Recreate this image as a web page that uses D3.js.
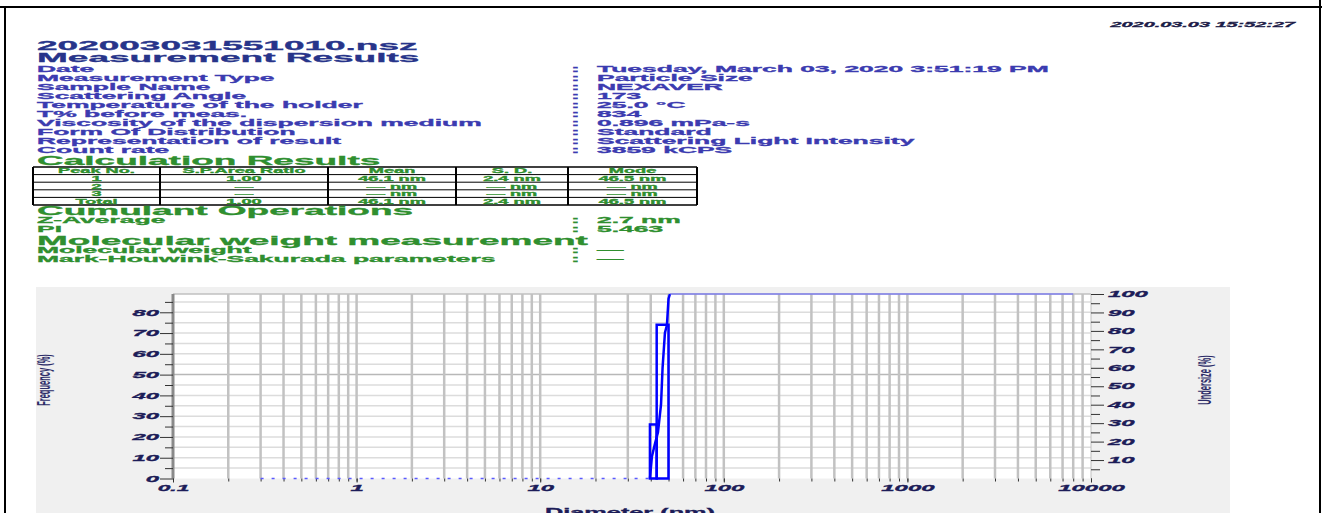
<!DOCTYPE html>
<html lang="en">
<head>
<meta charset="UTF-8">
<script src="https://d3js.org/d3.v7.min.js"></script>
<title>DLS report</title>
<style>
    body { margin: 0; background: #fff; }
    svg { display: block; }
    text { font-family: "Liberation Sans", Arial, sans-serif; font-weight: bold; }
    .tick text { font-style: italic; fill: #1c1c58; }
</style>
</head>
<body>
<div id="container"></div>
<script>
    const stamp = "2020.03.03 15:52:27";
    const fileName = "202003031551010.nsz";
    const infoLabels = ["Date", "Measurement Type", "Sample Name", "Scattering Angle", "Temperature of the holder",
        "T% before meas.", "Viscosity of the dispersion medium", "Form Of Distribution", "Representation of result", "Count rate"];
    const infoValues = ["Tuesday, March 03, 2020 3:51:19 PM", "Particle Size", "NEXAVER", "173", "25.0 \u00b0C",
        "834", "0.896 mPa-s", "Standard", "Scattering Light Intensity", "3859 kCPS"];
    const peakHeader = ["Peak No.", "S.P.Area Ratio", "Mean", "S. D.", "Mode"];
    const peakRows = [
        ["1", "1.00", "46.1 nm", "2.4 nm", "46.5 nm"],
        ["2", "\u2014", "\u2014 nm", "\u2014 nm", "\u2014 nm"],
        ["3", "\u2014", "\u2014 nm", "\u2014 nm", "\u2014 nm"],
        ["Total", "1.00", "46.1 nm", "2.4 nm", "46.5 nm"]
    ];
    const cumulantLabels = ["Z-Average", "PI"];
    const cumulantValues = ["2.7 nm", "5.463"];
    const mwLabels = ["Molecular weight", "Mark-Houwink-Sakurada parameters"];
    const mwValues = ["\u2014", "\u2014"];

    // frequency histogram (%), bin edges in nm
    const binLo = [39.6, 43.1];
    const binHi = [43.1, 50.0];
    const freq = [26, 74];
    // undersize (cumulative %) curve
    const cumSize = [0.3, 39.6, 40.6, 42.2, 43.8, 45.5, 46.4, 47.8, 49.0, 50.0, 50.9, 8000];
    const cumPct = [0, 0, 12, 19, 25, 40, 60, 79, 83, 97.5, 100, 100];

    const xTicks = [0.1, 1, 10, 100, 1000, 10000];
    const leftTicks = [0, 10, 20, 30, 40, 50, 60, 70, 80];
    const rightTicks = [10, 20, 30, 40, 50, 60, 70, 80, 90, 100];

    const W = 1322, H = 513;

    const svg = d3.select("#container").append("svg")
        .attr("width", W).attr("height", H);

    // page frame
    svg.append("line").attr("x1", 0).attr("x2", W).attr("y1", 7).attr("y2", 7)
        .attr("stroke", "#000").attr("stroke-width", 2);
    svg.append("line").attr("x1", 5).attr("x2", 5).attr("y1", 7).attr("y2", H)
        .attr("stroke", "#000").attr("stroke-width", 2);
    svg.append("line").attr("x1", 1320).attr("x2", 1320).attr("y1", 0).attr("y2", H)
        .attr("stroke", "#000").attr("stroke-width", 2);

    // the report text is stretched horizontally
    function st(x, y, str, size, color, anchor, sx) {
        return svg.append("text")
            .attr("transform", `translate(${x},${y}) scale(${sx},1)`)
            .attr("text-anchor", anchor || "start")
            .attr("font-size", size)
            .attr("fill", color)
            .attr("stroke", color).attr("stroke-width", 0.3)
            .text(str);
    }

    const navy = "#27348a", blue = "#3b3bb0", green = "#2f8f2f";
    const HEAD = 12.5, HSX = 2.96;   // headings
    const ROW = 9, RSX = 2.94;       // label rows

    st(1295, 27, stamp, 7.5, "#1c1c48", "end", 2.65).attr("font-style", "italic");

    st(37, 50, fileName, HEAD, navy, "start", HSX);
    st(37, 62, "Measurement Results", HEAD, navy, "start", HSX);
    infoLabels.forEach((d, i) => {
        st(37, 71.5 + i * 9, d, ROW, blue, "start", RSX);
        st(571, 71.5 + i * 9, ":", ROW, blue, "start", RSX);
        st(597, 71.5 + i * 9, infoValues[i], ROW, blue, "start", RSX);
    });

    st(37, 164.5, "Calculation Results", HEAD, green, "start", HSX);

    // peak table
    const colX = [33, 160, 328, 456, 568, 697];
    const rowY = d3.range(6).map(i => 167 + i * 7.6);
    const tbl = svg.append("g");
    rowY.forEach((y, i) => {
        tbl.append("line").attr("x1", colX[0]).attr("x2", colX[5]).attr("y1", y).attr("y2", y)
            .attr("stroke", "#000").attr("stroke-width", (i === 0 || i === 5) ? 1.5 : 1);
    });
    colX.forEach(x => {
        tbl.append("line").attr("x1", x).attr("x2", x).attr("y1", rowY[0]).attr("y2", rowY[5])
            .attr("stroke", "#000").attr("stroke-width", 2);
    });
    [peakHeader].concat(peakRows).forEach((row, r) => {
        row.forEach((cell, c) => {
            st((colX[c] + colX[c + 1]) / 2, rowY[r] + 6.4, cell, 6.5, green, "middle", 2.8);
        });
    });

    st(37, 214.5, "Cumulant Operations", HEAD, green, "start", HSX);
    cumulantLabels.forEach((d, i) => {
        st(37, 223 + i * 9, d, ROW, green, "start", RSX);
        st(571, 223 + i * 9, ":", ROW, green, "start", RSX);
        st(597, 223 + i * 9, cumulantValues[i], ROW, green, "start", RSX);
    });
    st(37, 244.5, "Molecular weight measurement", HEAD, green, "start", HSX);
    mwLabels.forEach((d, i) => {
        st(37, 253 + i * 9, d, ROW, green, "start", RSX);
        st(571, 253 + i * 9, ":", ROW, green, "start", RSX);
        st(597, 253 + i * 9, mwValues[i], ROW, green, "start", RSX);
    });

    // chart panel
    svg.append("rect").attr("x", 36).attr("y", 287).attr("width", 1194).attr("height", H - 287)
        .attr("fill", "#f0f0f0");

    const x = d3.scaleLog().domain([0.1, 10000]).range([173, 1091]);
    const yL = d3.scaleLinear().domain([0, 88.8]).range([478.5, 294]);
    const yR = d3.scaleLinear().domain([0, 100]).range([478.5, 294]);

    svg.append("rect").attr("x", x(0.1)).attr("y", yR(100))
        .attr("width", x(10000) - x(0.1)).attr("height", yR(0) - yR(100))
        .attr("fill", "#fff");

    // grid
    const gridX = [];
    d3.range(-1, 4).forEach(e => d3.range(1, 10).forEach(k => gridX.push(k * Math.pow(10, e))));
    const grid = svg.append("g");
    grid.selectAll("line.h").data(d3.range(5, 89, 5)).enter().append("line")
        .attr("x1", x(0.1)).attr("x2", x(10000))
        .attr("y1", d => yL(d)).attr("y2", d => yL(d))
        .attr("stroke", d => d === 50 ? "#b8b8b8" : "#dcdcdc").attr("stroke-width", 1.5);
    grid.selectAll("line.v").data(gridX.filter(d => d > 0.1)).enter().append("line")
        .attr("x1", d => x(d)).attr("x2", d => x(d))
        .attr("y1", yR(100)).attr("y2", yR(0))
        .attr("stroke", "#c2c2c2").attr("stroke-width", 2.5);
    svg.append("line").attr("x1", x(0.1)).attr("x2", x(10000)).attr("y1", yR(100)).attr("y2", yR(100))
        .attr("stroke", "#c0c0c0").attr("stroke-width", 1.5);
    svg.append("line").attr("x1", x(10000)).attr("x2", x(10000)).attr("y1", yR(100)).attr("y2", yR(0))
        .attr("stroke", "#c0c0c0").attr("stroke-width", 1);
    svg.append("line").attr("x1", x(0.1)).attr("x2", x(0.1)).attr("y1", yR(100)).attr("y2", yR(0))
        .attr("stroke", "#8a8a8a").attr("stroke-width", 3);

    function stretchLabels(sel) {
        sel.selectAll(".tick text")
            .attr("font-size", 8.5)
            .attr("stroke", "#1c1c58").attr("stroke-width", 0.3)
            .attr("lengthAdjust", "spacingAndGlyphs")
            .attr("textLength", function () {
                const s = this.textContent;
                return s.replace(/\./g, "").length * 13.3 + (s.split(".").length - 1) * 5;
            });
        sel.select(".domain").remove();
        sel.selectAll(".tick line").attr("stroke", "#333");
    }

    // left axis
    svg.append("g").attr("transform", `translate(${x(0.1)},0)`)
        .call(d3.axisLeft(yL).tickValues(d3.range(5, 89, 10)).tickSize(8).tickFormat(""))
        .call(stretchLabels);
    svg.append("g").attr("transform", `translate(${x(0.1)},0)`)
        .call(d3.axisLeft(yL).tickValues(leftTicks).tickSize(13).tickPadding(1).tickFormat(d3.format("d")))
        .call(stretchLabels);

    // right axis
    svg.append("g").attr("transform", `translate(${x(10000)},0)`)
        .call(d3.axisRight(yR).tickValues(d3.range(5, 100, 10)).tickSize(9).tickFormat(""))
        .call(stretchLabels);
    svg.append("g").attr("transform", `translate(${x(10000)},0)`)
        .call(d3.axisRight(yR).tickValues(rightTicks).tickSize(13).tickPadding(4).tickFormat(d3.format("d")))
        .call(stretchLabels);

    // bottom axis
    svg.append("g").attr("transform", `translate(0,${yR(0)})`)
        .call(d3.axisBottom(x).tickValues(gridX.concat([10000])).tickSize(3).tickFormat(""))
        .call(stretchLabels);
    svg.append("g").attr("transform", `translate(0,${yR(0)})`)
        .call(d3.axisBottom(x).tickValues(xTicks).tickSize(4).tickPadding(2).tickFormat(d => String(d)))
        .call(stretchLabels);

    // axis titles
    svg.append("text")
        .attr("transform", `translate(50,380) scale(2.4,1) rotate(-90)`)
        .attr("text-anchor", "middle").attr("font-size", 7.5).attr("font-weight", "normal")
        .attr("fill", "#2c2c68").text("Frequency (%)");
    svg.append("text")
        .attr("transform", `translate(1211,380) scale(2.4,1) rotate(-90)`)
        .attr("text-anchor", "middle").attr("font-size", 7.5).attr("font-weight", "normal")
        .attr("fill", "#2c2c68").text("Undersize (%)");
    st(630, 516, "Diameter (nm)", 11, "#1c1c58", "middle", 2.3).attr("font-weight", "normal");

    // series
    const plot = svg.append("g");
    plot.selectAll("rect.bin").data(freq).enter().append("rect")
        .attr("x", (d, i) => x(binLo[i]))
        .attr("width", (d, i) => x(binHi[i]) - x(binLo[i]))
        .attr("y", d => yL(d))
        .attr("height", d => yL(0) - yL(d))
        .attr("fill", "none").attr("stroke", "#0000ff").attr("stroke-width", 2.5);

    const pts = cumSize.map((s, i) => [s, cumPct[i]]);
    const line = d3.line().x(d => x(d[0])).y(d => yR(d[1]));
    plot.append("path").attr("d", line(pts.slice(0, 2)))
        .attr("fill", "none").attr("stroke", "#5a5aff").attr("stroke-width", 1.5)
        .attr("stroke-dasharray", "3,8");
    plot.append("path").attr("d", line(pts.slice(1, 11)))
        .attr("fill", "none").attr("stroke", "#0000ff").attr("stroke-width", 2.5);
    plot.append("path").attr("d", line(pts.slice(10)))
        .attr("fill", "none").attr("stroke", "#5a5aff").attr("stroke-width", 1);
</script>
</body>
</html>
